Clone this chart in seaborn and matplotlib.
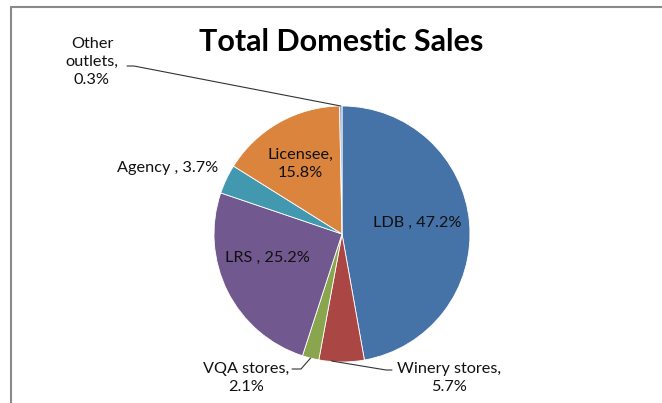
import numpy as np
import matplotlib
matplotlib.use("Agg")
import matplotlib.pyplot as plt
import seaborn as sns

# ---- data ----
categories = ["LDB", "Winery stores", "VQA stores", "LRS", "Agency", "Licensee", "Other outlets"]
shares = [47.2, 5.7, 2.1, 25.2, 3.7, 15.8, 0.3]
label_texts = ["LDB , 47.2%", "Winery stores,\n5.7%", "VQA stores,\n2.1%", "LRS , 25.2%",
               "Agency , 3.7%", "Licensee,\n15.8%", "Other\noutlets,\n0.3%"]
colors = ["#4572A7", "#AA4643", "#89A54E", "#71588F", "#4198AF", "#DB843D", "#93A9CF"]
title = "Total Domestic Sales"

sns.set_theme(style="white")
plt.rcParams['font.family'] = ['Lato', 'DejaVu Sans']

W, H = 662, 403
fig = plt.figure(figsize=(W / 100, H / 100), dpi=100)
ax = fig.add_axes([0, 0, 1, 1])

def Y(py):
    return H - py

cx, cy, r = 342, Y(234), 128
palette = sns.color_palette(colors)
wedges, _ = ax.pie(shares, colors=palette, startangle=90, counterclock=False,
                   center=(cx, cy), radius=r,
                   wedgeprops=dict(edgecolor="white", linewidth=0.6))
ax.set_xlim(0, W)
ax.set_ylim(0, H)
ax.set_aspect("auto")
ax.axis("off")

fs = 11.7
# label positions (pixel layout)
pos = {
    "LDB": (417, 223),
    "Winery stores": (449, 378),
    "VQA stores": (246, 378),
    "LRS": (267, 258),
    "Agency": (168, 168),
    "Licensee": (300, 164),
    "Other outlets": (92, 62),
}
for cat, txt in zip(categories, label_texts):
    px, py = pos[cat]
    ax.text(px, Y(py), txt, ha="center", va="center", fontsize=fs,
            color="#111111", linespacing=1.4)

def edge_point(w, frac=1.0):
    th = np.deg2rad((w.theta1 + w.theta2) / 2)
    return cx + r * frac * np.cos(th), cy + r * frac * np.sin(th)

lc = "#333333"
# Other outlets leader
ex, ey = edge_point(wedges[6])
ax.plot([127, 134, ex], [Y(66), Y(66), ey], color=lc, lw=0.8)
# VQA leader
ex, ey = edge_point(wedges[2])
ax.plot([292, 301, ex], [Y(369), Y(369), ey], color=lc, lw=0.8)
# Winery leader
ex, ey = edge_point(wedges[1])
ax.plot([ex - 10, 386, 392], [ey + 1, Y(370), Y(370)], color=lc, lw=0.8)

ax.text(341, Y(42), title, ha="center", va="center", fontsize=22,
        fontweight="bold", color="black")

# frame lines
from matplotlib.lines import Line2D
fig.add_artist(Line2D([10.5 / W, 1], [1 - 6.5 / H, 1 - 6.5 / H], transform=fig.transFigure,
                      color="#8a8a8a", lw=1.5))
fig.add_artist(Line2D([10.5 / W, 10.5 / W], [0, 1 - 6.5 / H], transform=fig.transFigure,
                      color="#8a8a8a", lw=1.5))

fig.savefig("out.png", dpi=100, facecolor="white")
